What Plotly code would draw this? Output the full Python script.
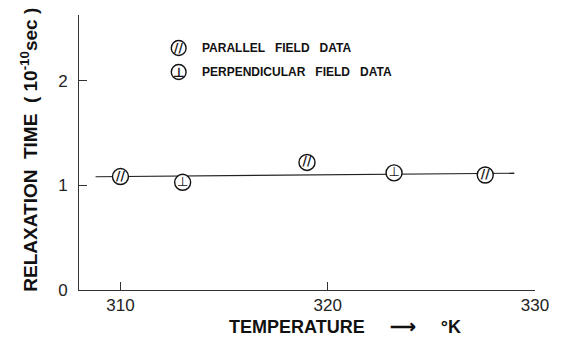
import plotly.graph_objects as go

# Data
par_temp = [310.0, 319.0, 327.6]
par_tau = [1.085, 1.22, 1.10]
perp_temp = [313.0, 323.2]
perp_tau = [1.03, 1.12]
fit_temp = [308.8, 329.0]
fit_tau = [1.083, 1.117]
x_ticks = [310, 320, 330]
y_ticks = [0, 1, 2]

L, R, T, B = 79, 20, 15, 47
W, H = 561, 337
pw, ph = W - L - R, H - T - B


def px(x):
    return (x - L) / pw


def py(y):
    return (H - B - y) / ph


fig = go.Figure()
fig.add_trace(go.Scatter(x=fit_temp, y=fit_tau, mode="lines",
                         line=dict(color="#222", width=1.2), showlegend=False))
fig.add_trace(go.Scatter(x=par_temp, y=par_tau, mode="markers+text",
                         text=["//"] * len(par_temp), textposition="middle center",
                         textfont=dict(family="DejaVu Sans", size=12, color="#111", weight="bold"),
                         marker=dict(symbol="circle", size=16, color="white",
                                     line=dict(color="#111", width=1.4)),
                         showlegend=False))
fig.add_trace(go.Scatter(x=perp_temp, y=perp_tau, mode="markers+text",
                         text=["⊥"] * len(perp_temp), textposition="middle center",
                         textfont=dict(family="DejaVu Sans", size=13, color="#111"),
                         marker=dict(symbol="circle", size=16, color="white",
                                     line=dict(color="#111", width=1.4)),
                         showlegend=False))

axis_common = dict(showline=True, linecolor="#333", linewidth=1, ticks="inside",
                   ticklen=8, tickcolor="#333", showgrid=False, zeroline=False,
                   tickfont=dict(family="Liberation Sans", size=17, color="#222"))
fig.update_xaxes(range=[308, 330], tickvals=x_ticks, **axis_common)
fig.update_yaxes(range=[0, 2.63], tickvals=y_ticks, ticklabelstandoff=7, **axis_common)

# legend made of shapes + annotations
shapes = []
annos = []
for cy, glyph, label, gsize in [(48, "//", "PARALLEL   FIELD   DATA", 12),
                                 (72, "⊥", "PERPENDICULAR   FIELD   DATA", 13)]:
    r = 7.5
    shapes.append(dict(type="circle", xref="paper", yref="paper",
                       x0=px(180 - r), x1=px(180 + r), y0=py(cy + r), y1=py(cy - r),
                       line=dict(color="#111", width=1.4)))
    annos.append(dict(x=px(180), y=py(cy), xref="paper", yref="paper", text=glyph,
                      showarrow=False, xanchor="center", yanchor="middle",
                      font=dict(family="DejaVu Sans", size=gsize, color="#111", weight="bold")))
    annos.append(dict(x=px(202), y=py(cy), xref="paper", yref="paper", text=label,
                      showarrow=False, xanchor="left", yanchor="middle",
                      font=dict(family="Liberation Sans", size=12, color="#111", weight="bold")))

annos.append(dict(x=px(348), y=py(327), xref="paper", yref="paper",
                  text="<b>TEMPERATURE     ⟶     °K</b>", showarrow=False,
                  xanchor="center", yanchor="middle",
                  font=dict(family="Liberation Sans", size=18, color="#111")))
annos.append(dict(x=px(28), y=py(150), xref="paper", yref="paper",
                  text="<b>RELAXATION  TIME  ( 10<sup>-10</sup>sec )</b>", showarrow=False,
                  textangle=-90, xanchor="center", yanchor="middle",
                  font=dict(family="Liberation Sans", size=19, color="#111")))

fig.update_layout(width=W, height=H, margin=dict(l=L, r=R, t=T, b=B),
                  plot_bgcolor="white", paper_bgcolor="white",
                  shapes=shapes, annotations=annos, showlegend=False)

fig.write_html("out.html")
